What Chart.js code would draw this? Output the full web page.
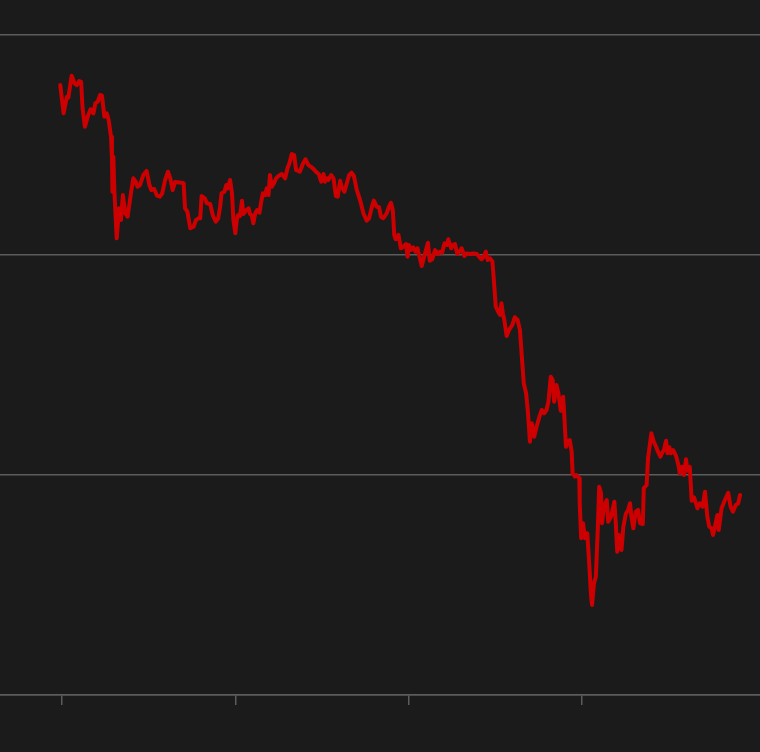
<!DOCTYPE html>
<html>
<head>
<meta charset="utf-8">
<script src="https://cdn.jsdelivr.net/npm/chart.js@4.4.1/dist/chart.umd.min.js"></script>
<style>
    html, body { margin: 0; padding: 0; background: #1b1b1b; }
    canvas { display: block; }
</style>
</head>
<body>
<canvas id="priceChart" width="760" height="752"></canvas>
<script>
// Days since the first tick (start of year one)
const days = [
    -4, 3, 10, 13, 20, 26, 31, 36, 40, 43,
    48, 55, 60, 66, 70, 75, 80, 84, 89, 94,
    98, 103, 105, 106, 108, 110, 115, 120, 124, 128,
    133, 138, 145, 150, 155, 159, 164, 171, 178, 184,
    188, 194, 200, 206, 211, 217, 223, 228, 233, 238,
    252, 256, 259, 264, 270, 277, 282, 287, 291, 294,
    301, 305, 312, 318, 324, 329, 333, 336, 342, 346,
    349, 354, 358, 361, 365, 368, 371, 375, 379, 382,
    388, 393, 396, 400, 403, 407, 411, 416, 419, 423,
    428, 431, 435, 438, 442, 447, 451, 456, 463, 470,
    475, 479, 484, 489, 493, 501, 508, 513, 519, 526,
    532, 537, 541, 546, 551, 554, 558, 561, 567, 572,
    577, 581, 586, 589, 595, 600, 605, 610, 615, 621,
    628, 635, 642, 647, 653, 657, 663, 668, 672, 677,
    684, 689, 693, 697, 700, 703, 709, 714, 719, 725,
    728, 731, 735, 740, 745, 749, 758, 763, 771, 775,
    780, 786, 792, 796, 801, 806, 811, 814, 820, 824,
    828, 833, 839, 842, 848, 853, 860, 867, 874, 879,
    884, 889, 893, 897, 902, 907, 911, 914, 919, 923,
    926, 929, 932, 937, 942, 949, 954, 960, 965, 969,
    973, 978, 982, 986, 990, 995, 1000, 1006, 1011, 1016,
    1021, 1025, 1030, 1034, 1037, 1042, 1046, 1051, 1056, 1058,
    1062, 1066, 1070, 1074, 1076, 1081, 1084, 1090, 1091, 1094,
    1098, 1102, 1107, 1111, 1115, 1117, 1121, 1125, 1129, 1132,
    1136, 1138, 1142, 1148, 1151, 1157, 1164, 1167, 1170, 1174,
    1179, 1183, 1188, 1193, 1197, 1200, 1204, 1209, 1214, 1218,
    1224, 1226, 1232, 1235, 1242, 1247, 1252, 1256, 1261, 1266,
    1268, 1273, 1276, 1280, 1283, 1288, 1294, 1299, 1302, 1307,
    1311, 1315, 1318, 1323, 1327, 1332, 1336, 1339, 1344, 1350,
    1355, 1360, 1364, 1369, 1372, 1376, 1381, 1384, 1390, 1397,
    1404, 1409, 1414, 1420, 1425, 1429
]

const prices = [
    55.45, 52.88, 54.39, 54.30, 56.30, 55.61, 55.45, 55.82, 55.75, 53.34,
    51.66, 52.73, 53.25, 52.88, 53.79, 53.94, 54.55, 54.48, 52.57, 52.88,
    52.27, 50.75, 48.79, 45.75, 48.94, 45.91, 41.52, 44.25, 43.18, 45.45,
    43.79, 43.48, 45.61, 46.97, 46.66, 46.21, 46.36, 47.27, 47.64, 46.36,
    45.91, 46.00, 45.39, 45.30, 45.61, 46.82, 47.57, 46.97, 45.91, 46.64,
    46.57, 46.52, 44.25, 43.94, 42.43, 42.57, 43.18, 43.34, 43.34, 45.36,
    45.15, 44.70, 44.64, 43.55, 43.03, 43.34, 44.39, 45.61, 45.75, 46.36,
    46.06, 46.82, 45.61, 43.18, 41.97, 43.18, 43.64, 43.55, 44.94, 43.73,
    44.09, 44.25, 43.73, 43.55, 42.88, 43.79, 44.09, 43.85, 44.70, 45.61,
    45.45, 46.06, 45.45, 47.27, 46.21, 46.57, 46.97, 47.18, 47.36, 46.97,
    47.88, 48.34, 49.18, 49.09, 47.73, 47.57, 48.34, 48.70, 48.18, 47.97,
    47.73, 47.48, 47.36, 46.66, 47.36, 46.66, 46.97, 46.82, 47.27, 46.97,
    45.36, 45.30, 46.75, 46.21, 45.75, 46.52, 47.27, 47.48, 47.18, 45.91,
    45.00, 43.79, 43.12, 43.34, 44.39, 44.94, 44.39, 44.34, 43.48, 43.34,
    43.79, 44.39, 44.75, 44.09, 41.82, 41.43, 41.82, 40.61, 40.75, 41.00,
    39.85, 40.91, 40.45, 40.70, 40.30, 40.61, 39.00, 39.85, 41.12, 39.48,
    39.61, 40.45, 40.09, 40.30, 40.21, 41.06, 40.91, 41.43, 40.61, 40.91,
    41.00, 40.09, 40.39, 40.61, 39.91, 40.15, 40.09, 40.15, 40.09, 39.85,
    39.61, 39.85, 40.30, 39.55, 39.70, 39.39, 37.12, 35.30, 34.85, 34.55,
    35.61, 34.70, 34.09, 32.64, 33.18, 33.64, 34.34, 34.09, 33.18, 30.75,
    28.34, 27.43, 25.61, 23.03, 24.70, 23.48, 24.39, 25.30, 25.91, 25.61,
    25.91, 26.66, 28.94, 28.64, 26.66, 28.18, 27.43, 25.85, 27.12, 25.75,
    22.57, 23.03, 23.18, 22.12, 20.15, 19.85, 20.00, 19.70, 17.43, 14.25,
    15.61, 14.25, 14.70, 11.97, 8.94, 8.18, 10.15, 10.75, 15.00, 18.94,
    18.34, 15.61, 17.12, 17.73, 15.75, 16.21, 17.57, 15.61, 13.03, 14.55,
    13.18, 15.30, 16.45, 16.82, 17.43, 16.21, 15.15, 16.66, 16.82, 15.61,
    15.55, 18.79, 19.09, 21.52, 23.79, 23.03, 22.57, 22.12, 21.66, 22.12,
    22.21, 23.12, 21.97, 22.52, 21.97, 22.27, 21.73, 20.91, 20.15, 20.75,
    20.00, 21.43, 20.39, 20.75, 17.66, 17.97, 17.43, 16.97, 17.43, 17.12,
    18.48, 16.21, 15.30, 15.15, 14.55, 15.30, 16.36, 15.00, 16.97, 17.73,
    18.39, 17.12, 16.66, 17.27, 17.43, 18.18
]

// Year starts on the x axis, price levels on the y axis
const xTickDays = [0, 365, 731, 1096]
const yTicks = [0, 20, 40, 60]

const GRID_COLOR = '#5c5c5c'
const LINE_COLOR = '#cc0000'

const points = days.map((day, i) => ({ x: day, y: prices[i] }))

const chartCanvas = document.getElementById('priceChart')

new Chart(chartCanvas.getContext('2d'), {
    type: 'line',
    data: {
        datasets: [{
            data: points,
            borderColor: LINE_COLOR,
            borderWidth: 4,
            pointRadius: 0,
            tension: 0,
            borderJoinStyle: 'round',
            borderCapStyle: 'round'
        }]
    },
    options: {
        responsive: false,
        animation: false,
        layout: {
            padding: { top: 35, bottom: 47, left: 0, right: 0 }
        },
        plugins: {
            legend: { display: false },
            tooltip: { enabled: false }
        },
        scales: {
            x: {
                type: 'linear',
                min: -131,
                max: 1471,
                afterBuildTicks: scale => {
                    scale.ticks = xTickDays.map(value => ({ value: value }))
                },
                ticks: { display: false },
                grid: {
                    drawOnChartArea: false,
                    drawTicks: true,
                    tickLength: 10,
                    color: GRID_COLOR,
                    lineWidth: 1.5
                },
                border: { display: true, color: GRID_COLOR, width: 1.5 }
            },
            y: {
                min: yTicks[0],
                max: yTicks[yTicks.length - 1],
                afterBuildTicks: scale => {
                    scale.ticks = yTicks.map(value => ({ value: value }))
                },
                ticks: { display: false },
                grid: {
                    drawTicks: false,
                    color: GRID_COLOR,
                    lineWidth: 1.5
                },
                border: { display: false }
            }
        }
    }
})
</script>
</body>
</html>
